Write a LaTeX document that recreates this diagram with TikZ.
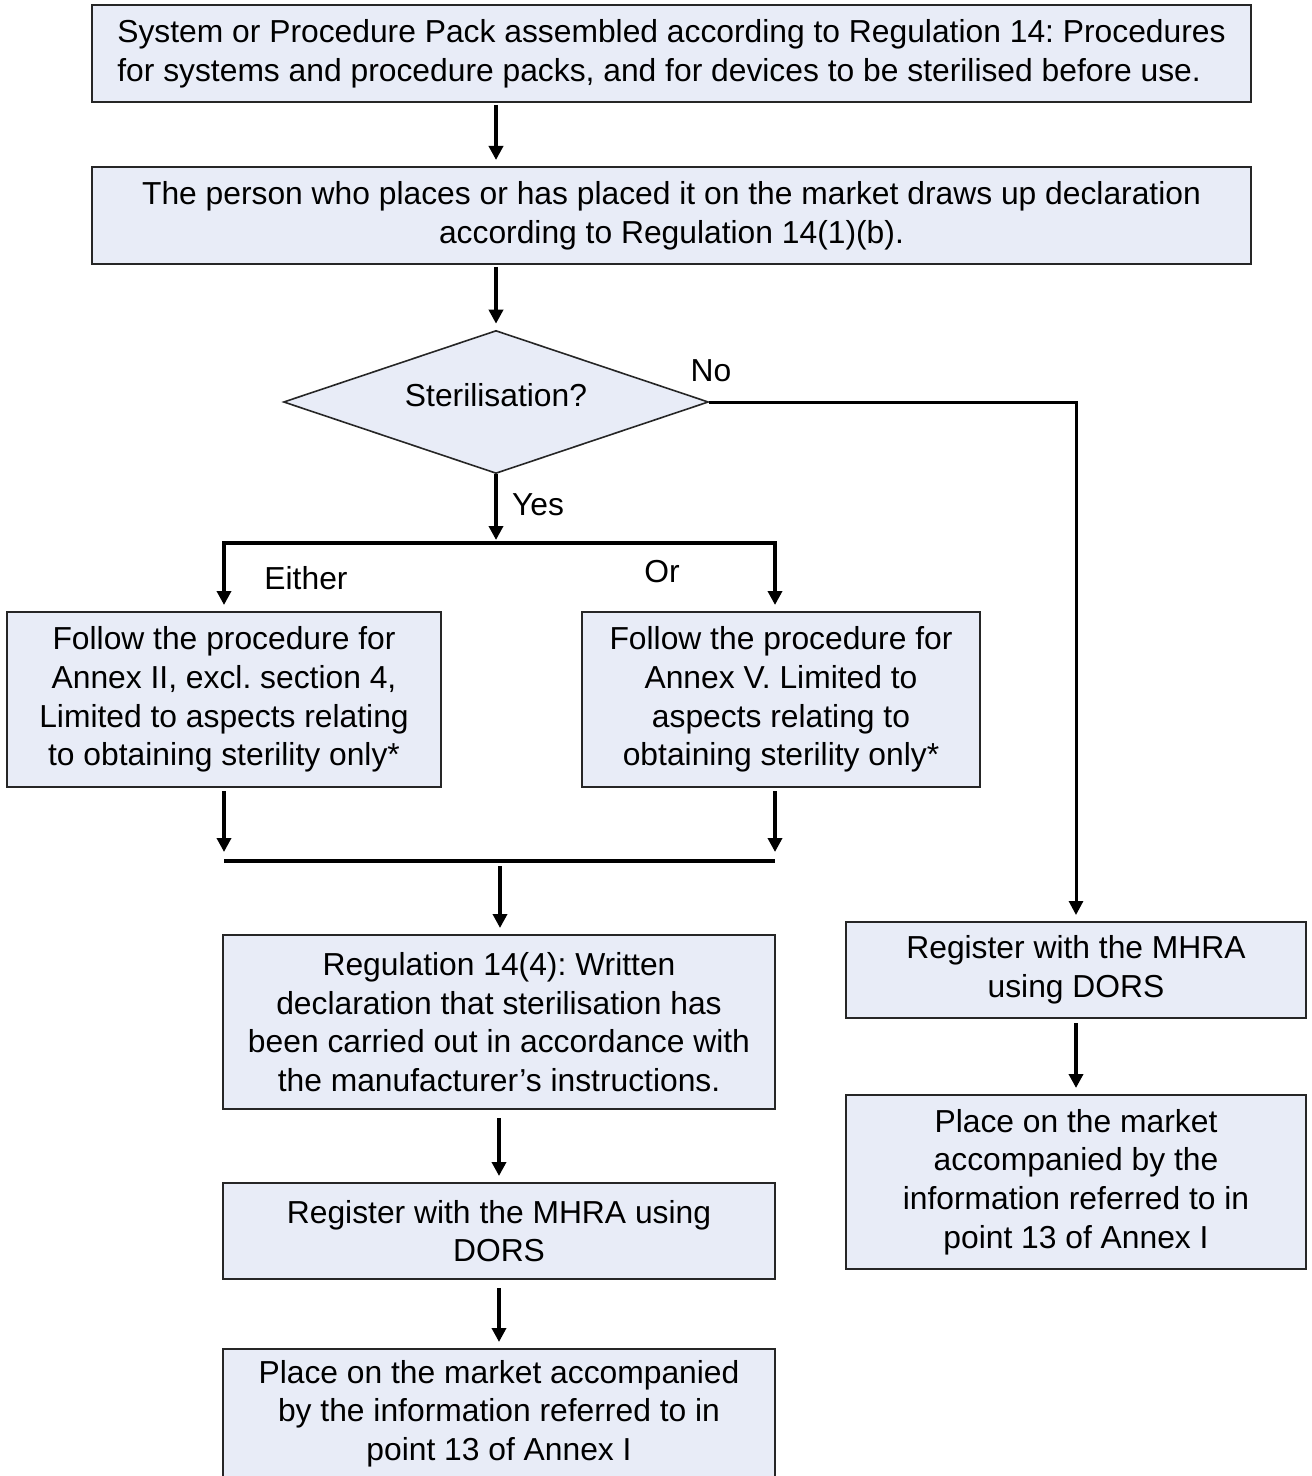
\documentclass[tikz,border=0pt]{standalone}
\usepackage{fontspec}
\setmainfont{Liberation Sans}
\usepackage{xcolor}
\usepackage{tikz}
\usetikzlibrary{arrows.meta, shapes.geometric}
\definecolor{boxfill}{RGB}{232,236,247}
\frenchspacing

\begin{document}
\begin{tikzpicture}[x=0.5pt,y=-0.5pt,>={Triangle[length=7pt,width=7pt]}]

% Stili per riquadri, rombo e frecce
\tikzset{stepbox/.style={draw=black!85, line width=1pt, fill=boxfill, align=center, inner sep=0pt,
    font=\fontsize{15.9}{19.3}\selectfont},
  decision/.style={diamond, draw=black!85, line width=0.8pt, fill=boxfill, inner sep=0pt, aspect=2.97,
    minimum width=212.5pt, minimum height=71.5pt, font=\fontsize{15.9}{19.3}\selectfont},
  flow/.style={->, line width=1.8pt, shorten >=3pt},
  bar/.style={line width=1.8pt},
  lbl/.style={font=\fontsize{15.9}{19.3}\selectfont}}

\useasboundingbox (0,0) rectangle (1311,1476);
\clip (0,0) rectangle (1311,1476);

% --- Parte superiore ---
\node[stepbox, align=left, minimum width=579.5pt, minimum height=48.5pt] (pack) at (671.5,53.5)
  {System or Procedure Pack assembled according to Regulation 14: Procedures\\for systems and procedure packs, and for devices to be sterilised before use.};
\node[stepbox, minimum width=579.5pt, minimum height=48.5pt] (decl) at (671.5,215.5)
  {The person who places or has placed it on the market draws up declaration\\according to Regulation 14(1)(b).};

% Rombo
\node[decision] (dia) at (496,402) {\raisebox{3.5pt}[\height][\depth]{Sterilisation?}};

% --- Ramo "Yes" ---
\node[stepbox, minimum width=217pt, minimum height=87.5pt] (annex2) at (224,699.5)
  {Follow the procedure for\\Annex II, excl. section 4,\\Limited to aspects relating\\to obtaining sterility only*};
\node[stepbox, minimum width=199pt, minimum height=87.5pt] (annex5) at (781,699.5)
  {Follow the procedure for\\Annex V. Limited to\\aspects relating to\\obtaining sterility only*};
\node[stepbox, minimum width=276pt, minimum height=87pt] (reg14) at (499,1022)
  {Regulation 14(4): Written\\declaration that sterilisation has\\been carried out in accordance with\\the manufacturer’s instructions.};
\node[stepbox, minimum width=276pt, minimum height=48pt] (regL) at (499,1231)
  {Register with the MHRA using\\DORS};
\node[stepbox, minimum width=276pt, minimum height=64.5pt] (placeL) at (499,1413.5)
  {Place on the market accompanied\\by the information referred to in\\point 13 of Annex I};

% --- Ramo "No" ---
\node[stepbox, minimum width=230pt, minimum height=48pt] (regR) at (1076,970)
  {Register with the MHRA\\using DORS};
\node[stepbox, minimum width=230pt, minimum height=87pt] (placeR) at (1076,1182)
  {Place on the market\\accompanied by the\\information referred to in\\point 13 of Annex I};

% Etichette
\node[lbl] (no) at (711,371) {No};
\node[lbl] (yes) at (538,505) {Yes};
\node[lbl] (either) at (306,578) {Either};
\node[lbl] (or) at (662,572) {Or};

% Punti di diramazione
\coordinate (split) at (496,543);
\coordinate (splitR) at (775,543);
\coordinate (mergeL) at (224,861);
\coordinate (mergeR) at (775,861);
\coordinate (merge) at (500,861);

% Frecce
\draw[flow, shorten <=1pt] (pack.south -| dia.north) -- (dia.north |- decl.north);
\draw[flow, shorten <=1pt] (decl.south -| dia.north) -- (dia.north);
\draw[flow, line width=1.5pt] (dia.east) -| (regR.north);
\draw[flow, shorten >=1.5pt] (dia.south) -- (split);
\draw[flow] (split) -| (annex2.north);
\draw[flow] (split) -| (splitR |- annex5.north);
\draw[flow, shorten <=1.5pt, shorten >=4.5pt] (annex2.south) -- (mergeL);
\draw[flow, shorten <=1.5pt, shorten >=4.5pt] (annex5.south -| mergeR) -- (mergeR);
\draw[bar] (mergeL) -- (mergeR);
\draw[flow, shorten <=2.5pt] (merge) -- (merge |- reg14.north);
\draw[flow, shorten <=4pt] (reg14.south) -- (regL.north);
\draw[flow, shorten <=4pt] (regL.south) -- (placeL.north);
\draw[flow, shorten <=2pt] (regR.south) -- (placeR.north);

\end{tikzpicture}
\end{document}
